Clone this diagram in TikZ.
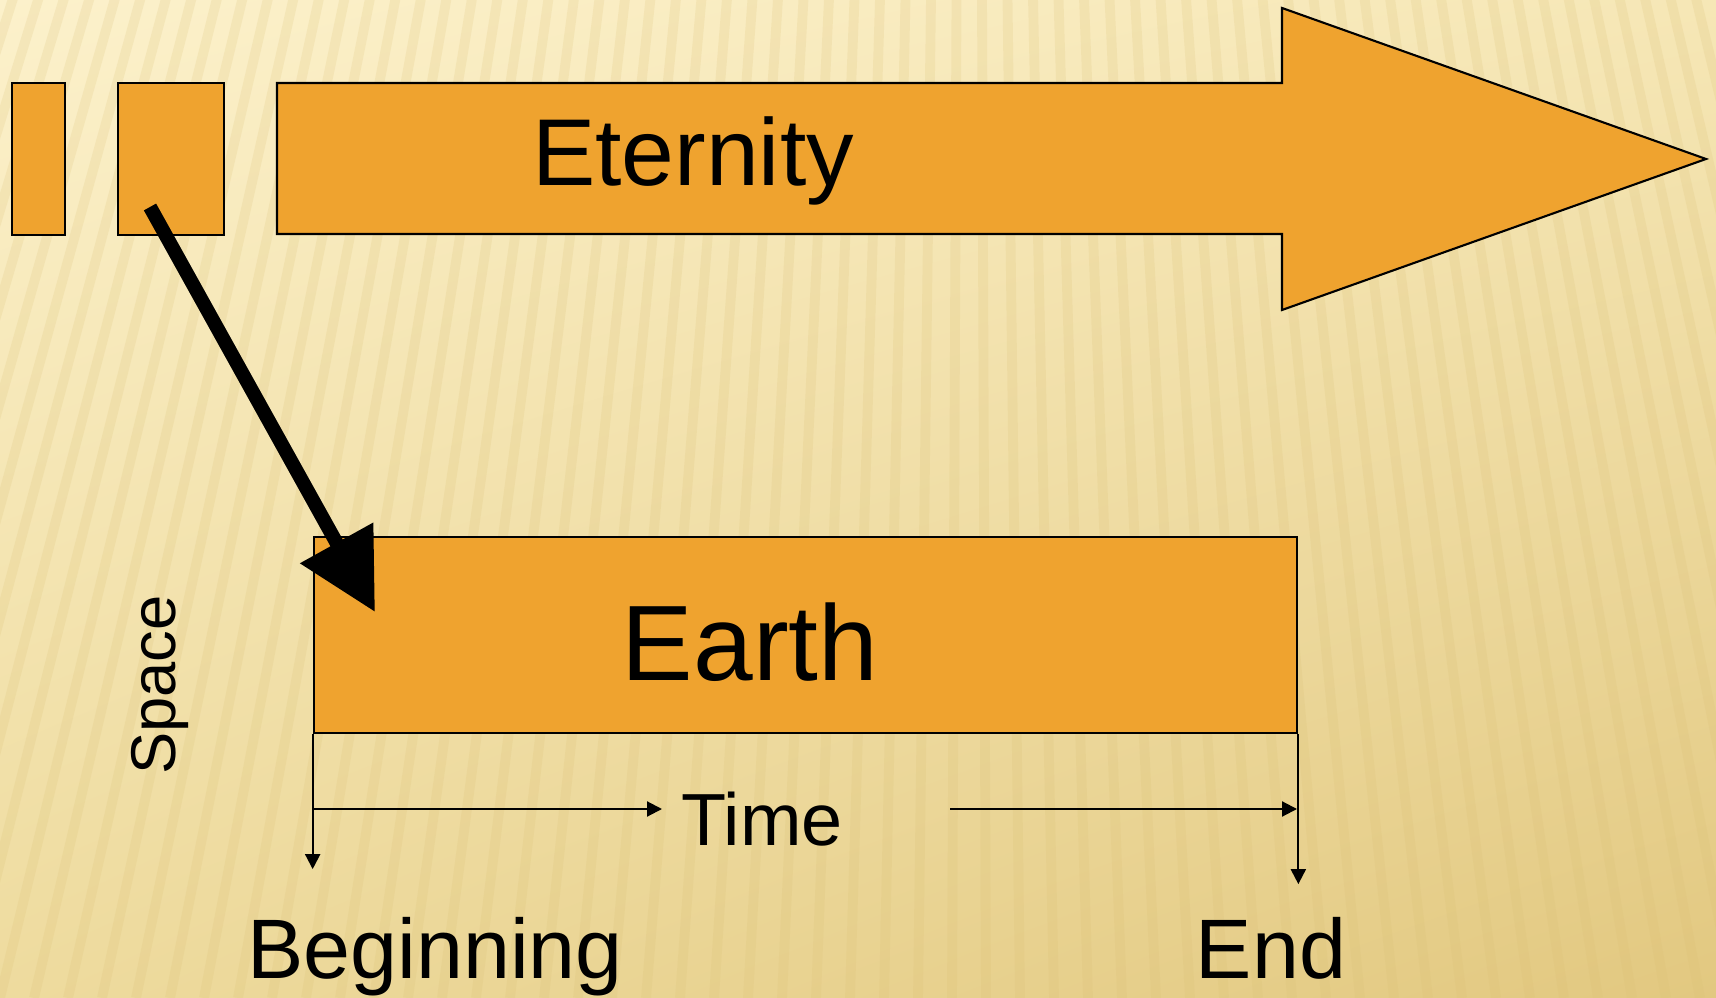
\documentclass[tikz,border=0pt]{standalone}
\usepackage{fontspec}
\setmainfont{Liberation Sans}
\usetikzlibrary{arrows.meta,shadings}
\definecolor{slideorange}{HTML}{EFA32F}
\definecolor{bglight}{HTML}{FCF1CB}
\definecolor{bgtopright}{HTML}{F6E7B6}
\definecolor{bglowleft}{HTML}{EEDB9E}
\definecolor{bgdark}{HTML}{E2C880}
\definecolor{stripe}{HTML}{D9BE72}
\begin{document}
\begin{tikzpicture}[x=0.01cm, y=-0.01cm,
    box/.style={draw, line width=0.6pt, fill=slideorange, inner sep=0pt},
    tick/.style={line width=0.6pt, -{Triangle[length=0.15cm, width=0.15cm]}},
    word/.style={inner sep=0pt, anchor=base}]
    \shade[upper left=bglight, upper right=bgtopright, lower left=bglowleft, lower right=bgdark] (0,0) rectangle (1716,998);
    \begin{scope}
        \clip (0,0) rectangle (1716,998);
        \foreach \k in {-12,...,62}
            \draw[stripe, line width=2.8pt, opacity=0.18] (970,-3000) -- (\k*34,998);
    \end{scope}
    \foreach \name/\cx/\w in {blk1/38.5/0.53, blk2/171/1.06}
        \node[box, minimum width=\w cm, minimum height=1.52cm] (\name) at (\cx,159) {};
    \draw[box] (277,83) -- (1282,83) -- (1282,8) -- (1706,159) -- (1282,310) -- (1282,234) -- (277,234) -- cycle;
    \node[word, font=\fontsize{27}{30}\selectfont] (eternity) at (693,186) {Eternity};
    \node[box, minimum width=9.83cm, minimum height=1.96cm] (earth) at (805.5,635) {};
    \node[word, font=\fontsize{30.5}{34}\selectfont] (earthlab) at (750,681) {Earth};
    \node[word, rotate=90, font=\fontsize{18}{22}\selectfont] (space) at (175,685) {Space};
    \draw[tick] (earth.south west) -- ++(0,135) coordinate (start);
    \draw[tick] (earth.south east) -- ++(0,150) coordinate (finish);
    \coordinate (t1) at (314,809);
    \coordinate (t2) at (662,809);
    \coordinate (t3) at (950,809);
    \coordinate (t4) at (1297,809);
    \draw[tick] (t1) -- (t2);
    \draw[tick] (t3) -- (t4);
    \node[word, font=\fontsize{21}{25}\selectfont] (time) at (762,845) {Time};
    \node[word, font=\fontsize{24}{28}\selectfont] (beginning) at (435,978) {Beginning};
    \node[word, font=\fontsize{24}{28}\selectfont] (end) at (1271,978) {End};
    \coordinate (launch) at (150,207);
    \coordinate (landing) at (375,612);
    \draw[line width=0.14cm, -{Triangle[length=0.79cm, width=0.8cm]}] (launch) -- (landing);
\end{tikzpicture}
\end{document}
